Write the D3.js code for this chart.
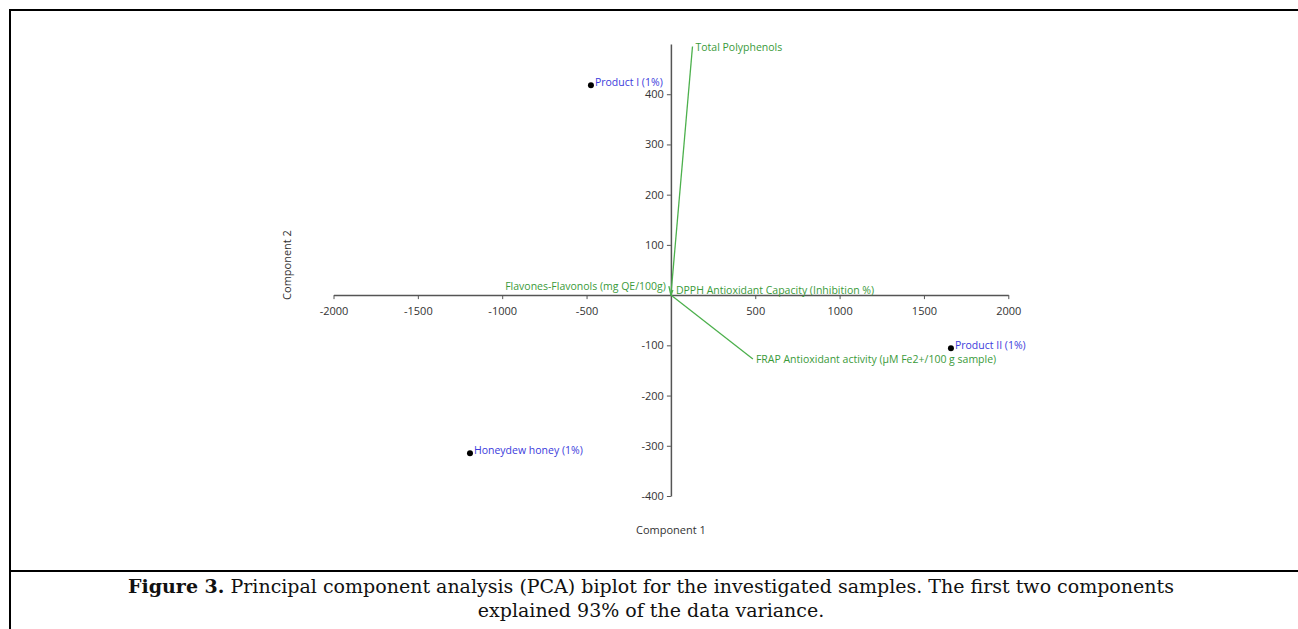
<!DOCTYPE html>
<html>
<head>
<meta charset="utf-8">
<script src="https://cdn.jsdelivr.net/npm/d3@7"></script>
<style>
  body { margin: 0; background: #fff; }
  svg { display: block; }
</style>
</head>
<body>
<div id="chart"></div>
<script>
// size of the page
const width = 1298
const height = 629

// samples (scores)
const sampleNames = ["Product I (1%)", "Product II (1%)", "Honeydew honey (1%)"]
const sampleX = [-474, 1660, -1191]
const sampleY = [418, -106, -315]

// variables (loadings)
const varNames = ["Total Polyphenols", "FRAP Antioxidant activity (µM Fe2+/100 g sample)", "DPPH Antioxidant Capacity (Inhibition %)", "Flavones-Flavonols (mg QE/100g)"]
const varX = [128, 486, 12, -12]
const varY = [495, -127, 10, 18]

// tick labels
const xTicks = [-2000, -1500, -1000, -500, 500, 1000, 1500, 2000]
const yTicks = [-400, -300, -200, -100, 100, 200, 300, 400]

var svg = d3.select("#chart")
  .append("svg")
  .attr("width", width)
  .attr("height", height)

var x = d3.scaleLinear()
  .domain([-2000, 2000])
  .range([333.5, 1008.3])

var y = d3.scaleLinear()
  .domain([-400, 500])
  .range([496, 44])

var axisColor = "#555"
var tickFont = "'Open Sans', 'Noto Sans', sans-serif"
var plain = function(d) { return String(d) }  // "-2000", no comma, ascii minus

// x axis through y = 0
var gx = svg.append("g")
  .attr("transform", "translate(0," + y(0) + ")")
  .call(d3.axisBottom(x).tickValues(xTicks).tickFormat(plain).tickSize(4).tickSizeOuter(0))
gx.select(".domain").attr("stroke", axisColor).attr("stroke-width", 1.5)
gx.selectAll(".tick line").attr("stroke", axisColor)
gx.selectAll(".tick text")
  .attr("fill", "#333")
  .style("font-family", tickFont)
  .style("font-size", "11px")
  .attr("dy", "1.2em")

// y axis through x = 0
var gy = svg.append("g")
  .attr("transform", "translate(" + x(0) + ",0)")
  .call(d3.axisLeft(y).tickValues(yTicks).tickFormat(plain).tickSize(4).tickSizeOuter(0))
gy.select(".domain").attr("stroke", axisColor).attr("stroke-width", 1.5)
gy.selectAll(".tick line").attr("stroke", axisColor)
gy.selectAll(".tick text")
  .attr("fill", "#333")
  .style("font-family", tickFont)
  .style("font-size", "11px")

// axis titles
svg.append("text")
  .attr("x", x(0))
  .attr("y", 534)
  .attr("text-anchor", "middle")
  .attr("fill", "#333")
  .style("font-family", tickFont)
  .style("font-size", "11px")
  .text("Component 1")

svg.append("text")
  .attr("transform", "translate(291,265) rotate(-90)")
  .attr("text-anchor", "middle")
  .attr("fill", "#333")
  .style("font-family", tickFont)
  .style("font-size", "11px")
  .text("Component 2")

// loading vectors
var vars = varNames.map(function(n, i) { return {name: n, x: varX[i], y: varY[i]} })

svg.append("g")
  .selectAll("line")
  .data(vars)
  .enter().append("line")
    .attr("x1", x(0))
    .attr("y1", y(0))
    .attr("x2", function(d) { return x(d.x) })
    .attr("y2", function(d) { return y(d.y) })
    .attr("stroke", "#4cb04c")
    .attr("stroke-width", 1.3)

svg.append("g")
  .selectAll("text")
  .data(vars)
  .enter().append("text")
    .attr("x", function(d) { return x(d.x) + (d.x < 0 ? -3 : 3) })
    .attr("y", function(d) { return y(d.y) + 4 })
    .attr("text-anchor", function(d) { return d.x < 0 ? "end" : "start" })
    .attr("fill", "#3a9a3a")
    .style("font-family", tickFont)
    .style("font-size", "10.5px")
    .text(function(d) { return d.name })

// sample points
var samples = sampleNames.map(function(n, i) { return {name: n, x: sampleX[i], y: sampleY[i]} })

svg.append("g")
  .selectAll("circle")
  .data(samples)
  .enter().append("circle")
    .attr("cx", function(d) { return x(d.x) })
    .attr("cy", function(d) { return y(d.y) })
    .attr("r", 3)
    .attr("fill", "#000")

svg.append("g")
  .selectAll("text")
  .data(samples)
  .enter().append("text")
    .attr("x", function(d) { return x(d.x) + 4 })
    .attr("y", function(d) { return y(d.y) + 0.5 })
    .attr("fill", "#3b3bdc")
    .style("font-family", tickFont)
    .style("font-size", "10.5px")
    .text(function(d) { return d.name })

// frame of the figure
svg.append("line").attr("x1", 9).attr("x2", width).attr("y1", 10).attr("y2", 10)
  .attr("stroke", "#000").attr("stroke-width", 2)
svg.append("line").attr("x1", 10).attr("x2", 10).attr("y1", 9).attr("y2", height)
  .attr("stroke", "#000").attr("stroke-width", 2)
svg.append("line").attr("x1", 9).attr("x2", width).attr("y1", 571).attr("y2", 571)
  .attr("stroke", "#000").attr("stroke-width", 2)

// caption
var cap = svg.append("text")
  .attr("x", 651)
  .attr("y", 593)
  .attr("text-anchor", "middle")
  .attr("fill", "#111")
  .style("font-family", "'DejaVu Serif', serif")
  .style("font-size", "19px")
cap.append("tspan").style("font-weight", "bold").text("Figure 3.")
cap.append("tspan").text(" Principal component analysis (PCA) biplot for the investigated samples. The first two components")

svg.append("text")
  .attr("x", 651)
  .attr("y", 617)
  .attr("text-anchor", "middle")
  .attr("fill", "#111")
  .style("font-family", "'DejaVu Serif', serif")
  .style("font-size", "19px")
  .text("explained 93% of the data variance.")
</script>
</body>
</html>
